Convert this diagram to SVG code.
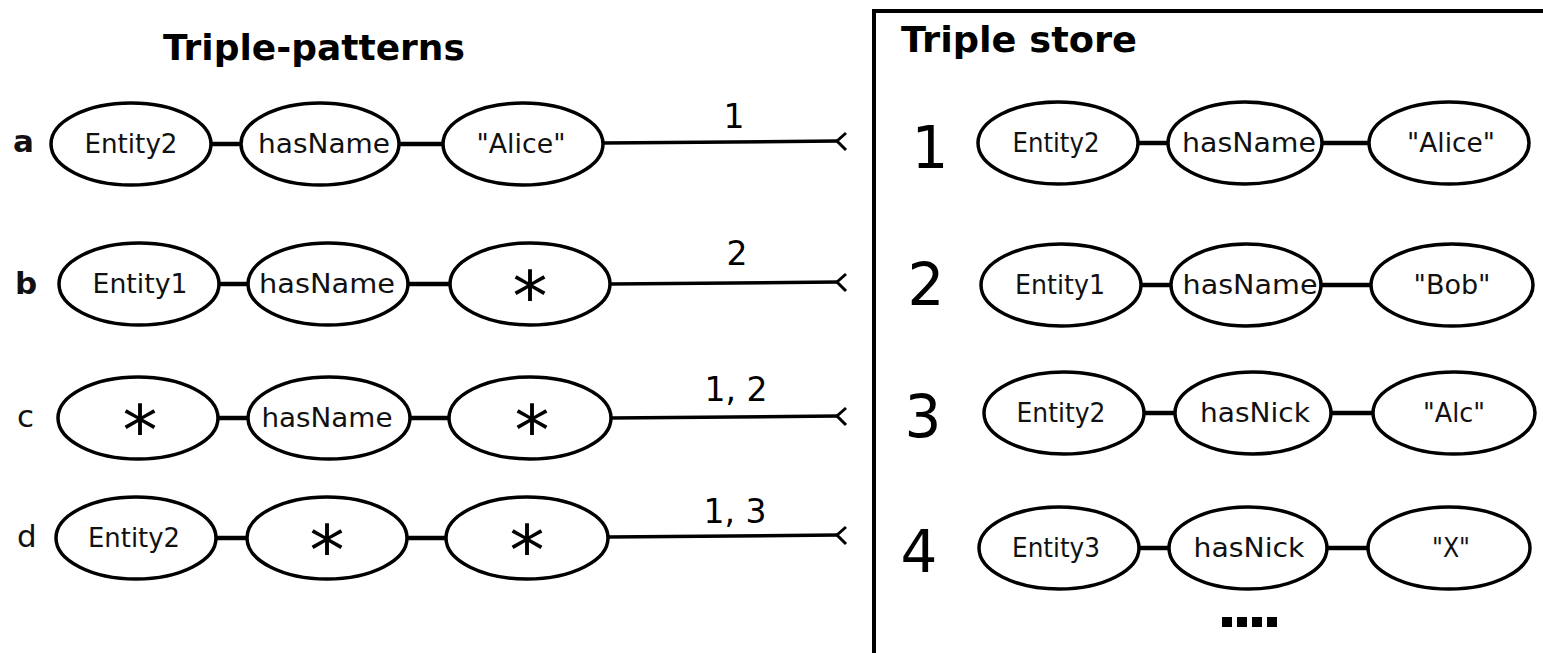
<svg xmlns="http://www.w3.org/2000/svg" width="1543" height="653" viewBox="0 0 1543 653">
  <style>
    .node ellipse { fill: #fff; stroke: #000; stroke-width: 3.5; }
    .lbl { font-family: "DejaVu Sans", sans-serif; font-size: 26px; fill: #111; text-anchor: middle; dominant-baseline: central; }
    .star { font-family: "DejaVu Sans", sans-serif; font-size: 70px; fill: #000; text-anchor: middle; }
    .title { font-family: "DejaVu Sans", sans-serif; font-weight: bold; font-size: 36px; fill: #000; }
    .row { font-family: "DejaVu Sans", sans-serif; font-size: 31px; fill: #111; }
    .num { font-family: "DejaVu Sans", sans-serif; font-size: 33px; fill: #000; text-anchor: middle; }
    .big { font-family: "DejaVu Sans", sans-serif; font-size: 58px; fill: #000; text-anchor: middle; }
    .link { stroke: #000; stroke-width: 4.5; fill: none; }
    .wire { stroke: #000; stroke-width: 3.5; fill: none; }
    .tick { stroke: #000; stroke-width: 3; fill: none; }
  </style>

  <rect width="1543" height="653" fill="#fff"/>

  <!-- headings -->
  <text class="title" x="163" y="60">Triple-patterns</text>
  <rect x="874" y="11" width="700" height="700" fill="none" stroke="#000" stroke-width="4"/>
  <text class="title" x="901" y="52" textLength="236" lengthAdjust="spacingAndGlyphs">Triple store</text>

  <!-- row letters -->
  <text class="row" x="13" y="152" font-weight="bold">a</text>
  <text class="row" x="15" y="294" font-weight="bold">b</text>
  <text class="row" x="17" y="427">c</text>
  <text class="row" x="17" y="547">d</text>

  <!-- connectors -->
  <g id="connectors">
    <line class="link" x1="211" y1="144" x2="242" y2="144"/>
    <line class="link" x1="399" y1="144" x2="444" y2="144"/>
    <line class="wire" x1="603" y1="143" x2="838" y2="141"/>
    <polyline class="tick" points="846,133 837,141 846,150"/>

    <line class="link" x1="219" y1="284" x2="248" y2="284"/>
    <line class="link" x1="407" y1="284" x2="450" y2="284"/>
    <line class="wire" x1="610" y1="284" x2="838" y2="282"/>
    <polyline class="tick" points="846,274 837,282 846,291"/>

    <line class="link" x1="218" y1="418" x2="248" y2="418"/>
    <line class="link" x1="410" y1="418" x2="450" y2="418"/>
    <line class="wire" x1="611" y1="418" x2="838" y2="416"/>
    <polyline class="tick" points="846,408 837,416 846,425"/>

    <line class="link" x1="216" y1="538" x2="248" y2="538"/>
    <line class="link" x1="406" y1="538" x2="448" y2="538"/>
    <line class="wire" x1="608" y1="537" x2="838" y2="535"/>
    <polyline class="tick" points="846,527 837,535 846,544"/>

    <line class="link" x1="1138" y1="143" x2="1168" y2="143"/>
    <line class="link" x1="1321" y1="143" x2="1370" y2="143"/>
    <line class="link" x1="1141" y1="285" x2="1171" y2="285"/>
    <line class="link" x1="1320" y1="285" x2="1372" y2="285"/>
    <line class="link" x1="1144" y1="413" x2="1176" y2="413"/>
    <line class="link" x1="1331" y1="413" x2="1374" y2="413"/>
    <line class="link" x1="1139" y1="548" x2="1169" y2="548"/>
    <line class="link" x1="1327" y1="548" x2="1369" y2="548"/>
  </g>

  <!-- line labels -->
  <text class="num" x="734" y="128">1</text>
  <text class="num" x="737" y="265">2</text>
  <text class="num" x="736" y="401">1, 2</text>
  <text class="num" x="735" y="523">1, 3</text>

  <!-- pattern a -->
  <g id="a-s" class="node"><ellipse cx="131" cy="144" rx="80" ry="41"/><text class="lbl" x="131" y="144" textLength="93" lengthAdjust="spacingAndGlyphs">Entity2</text></g>
  <g id="a-p" class="node"><ellipse cx="320" cy="144" rx="79" ry="41"/><text class="lbl" x="324" y="144" textLength="132" lengthAdjust="spacingAndGlyphs">hasName</text></g>
  <g id="a-o" class="node"><ellipse cx="523" cy="144" rx="80" ry="41"/><text class="lbl" x="521" y="144" textLength="89" lengthAdjust="spacingAndGlyphs">"Alice"</text></g>

  <!-- pattern b -->
  <g id="b-s" class="node"><ellipse cx="139" cy="284" rx="80" ry="41"/><text class="lbl" x="140" y="284" textLength="95" lengthAdjust="spacingAndGlyphs">Entity1</text></g>
  <g id="b-p" class="node"><ellipse cx="328" cy="284" rx="80" ry="41"/><text class="lbl" x="327" y="284" textLength="136" lengthAdjust="spacingAndGlyphs">hasName</text></g>
  <g id="b-o" class="node"><ellipse cx="530" cy="284" rx="80" ry="41"/><text class="star" x="530" y="321">*</text></g>

  <!-- pattern c -->
  <g id="c-s" class="node"><ellipse cx="138" cy="418" rx="80" ry="41"/><text class="star" x="140" y="455">*</text></g>
  <g id="c-p" class="node"><ellipse cx="329" cy="418" rx="81" ry="41"/><text class="lbl" x="327" y="418" textLength="131" lengthAdjust="spacingAndGlyphs">hasName</text></g>
  <g id="c-o" class="node"><ellipse cx="530" cy="418" rx="81" ry="41"/><text class="star" x="532" y="455">*</text></g>

  <!-- pattern d -->
  <g id="d-s" class="node"><ellipse cx="136" cy="538" rx="80" ry="41"/><text class="lbl" x="134" y="538" textLength="92" lengthAdjust="spacingAndGlyphs">Entity2</text></g>
  <g id="d-p" class="node"><ellipse cx="327" cy="538" rx="80" ry="41"/><text class="star" x="327" y="575">*</text></g>
  <g id="d-o" class="node"><ellipse cx="527" cy="538" rx="81" ry="41"/><text class="star" x="527" y="575">*</text></g>

  <!-- store rows -->
  <text class="big" x="930" y="168">1</text>
  <text class="big" x="926" y="305">2</text>
  <text class="big" x="923" y="437">3</text>
  <text class="big" x="919" y="572">4</text>

  <g id="s1-s" class="node"><ellipse cx="1058" cy="143" rx="80" ry="41"/><text class="lbl" x="1056" y="143" textLength="87" lengthAdjust="spacingAndGlyphs">Entity2</text></g>
  <g id="s1-p" class="node"><ellipse cx="1245" cy="143" rx="77" ry="41"/><text class="lbl" x="1249" y="143" textLength="134" lengthAdjust="spacingAndGlyphs">hasName</text></g>
  <g id="s1-o" class="node"><ellipse cx="1449" cy="143" rx="80" ry="41"/><text class="lbl" x="1451" y="143" textLength="88" lengthAdjust="spacingAndGlyphs">"Alice"</text></g>

  <g id="s2-s" class="node"><ellipse cx="1061" cy="285" rx="80" ry="41"/><text class="lbl" x="1060" y="285" textLength="90" lengthAdjust="spacingAndGlyphs">Entity1</text></g>
  <g id="s2-p" class="node"><ellipse cx="1246" cy="285" rx="75" ry="41"/><text class="lbl" x="1250" y="285" textLength="135" lengthAdjust="spacingAndGlyphs">hasName</text></g>
  <g id="s2-o" class="node"><ellipse cx="1452" cy="285" rx="81" ry="41"/><text class="lbl" x="1452" y="285" textLength="77" lengthAdjust="spacingAndGlyphs">"Bob"</text></g>

  <g id="s3-s" class="node"><ellipse cx="1064" cy="413" rx="80" ry="41"/><text class="lbl" x="1061" y="413" textLength="89" lengthAdjust="spacingAndGlyphs">Entity2</text></g>
  <g id="s3-p" class="node"><ellipse cx="1253" cy="413" rx="78" ry="41"/><text class="lbl" x="1255" y="413" textLength="110" lengthAdjust="spacingAndGlyphs">hasNick</text></g>
  <g id="s3-o" class="node"><ellipse cx="1454" cy="413" rx="81" ry="41"/><text class="lbl" x="1454" y="413" textLength="62" lengthAdjust="spacingAndGlyphs">"Alc"</text></g>

  <g id="s4-s" class="node"><ellipse cx="1059" cy="548" rx="80" ry="41"/><text class="lbl" x="1056" y="548" textLength="88" lengthAdjust="spacingAndGlyphs">Entity3</text></g>
  <g id="s4-p" class="node"><ellipse cx="1248" cy="548" rx="79" ry="41"/><text class="lbl" x="1249" y="548" textLength="111" lengthAdjust="spacingAndGlyphs">hasNick</text></g>
  <g id="s4-o" class="node"><ellipse cx="1449" cy="548" rx="81" ry="41"/><text class="lbl" x="1451" y="548" textLength="38" lengthAdjust="spacingAndGlyphs">"X"</text></g>

  <!-- continuation dots -->
  <g fill="#000">
    <rect x="1222" y="617" width="10" height="10"/>
    <rect x="1237" y="617" width="10" height="10"/>
    <rect x="1252" y="617" width="10" height="10"/>
    <rect x="1267" y="617" width="10" height="10"/>
  </g>
</svg>
